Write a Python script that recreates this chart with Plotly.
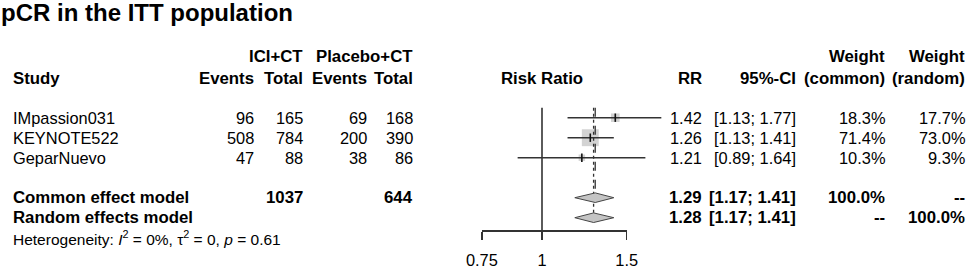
import math
import plotly.graph_objects as go

# ---------------- data ----------------
title = "pCR in the ITT population"
studies = ["IMpassion031", "KEYNOTE522", "GeparNuevo"]
ev_ici = [96, 508, 47]
tot_ici = [165, 784, 88]
ev_pla = [69, 200, 38]
tot_pla = [168, 390, 86]
rr = [1.42, 1.26, 1.21]
ci_lo = [1.13, 1.13, 0.89]
ci_hi = [1.77, 1.41, 1.64]
w_common = [18.3, 71.4, 10.3]
w_random = [17.7, 73.0, 9.3]

models = ["Common effect model", "Random effects model"]
model_rr = [1.29, 1.28]
model_lo = [1.17, 1.17]
model_hi = [1.41, 1.41]
model_tot_ici = ["1037", ""]
model_tot_pla = ["644", ""]
model_w_common = ["100.0%", "--"]
model_w_random = ["--", "100.0%"]

heterogeneity = "Heterogeneity: <i>I</i><sup>2</sup> = 0%, τ<sup>2</sup> = 0, <i>p</i> = 0.61"
xticks = [0.75, 1, 1.5]
xtick_labels = ["0.75", "1", "1.5"]

# ---------------- geometry ----------------
W, H = 969, 268
X1_PX = 542.0      # pixel of RR = 1
PX_PER_LN = 209.0  # pixels per natural-log unit
ROW0 = 117.7       # pixel y of first study row
ROWH = 20.0        # row height in pixels
AXIS_PX = 230.0    # pixel y of the x axis line


def px_x(v):
    return X1_PX + PX_PER_LN * math.log(v)


def row_of_px(p):
    return (p - ROW0) / ROWH


def xp(p):
    return p / W


log10_left = (0 - X1_PX) / PX_PER_LN / math.log(10)
log10_right = (W - X1_PX) / PX_PER_LN / math.log(10)

FONT = "Liberation Sans, Arial, Helvetica, sans-serif"
FS = 16.4
FSB = 16.8
LINE_COL = "#333333"
study_rows = [0, 1, 2]
model_rows = [4, 5]
hdr1, hdr2 = -3.05, -1.95
het_row = 6
k_axis = row_of_px(AXIS_PX)
k_top = -0.5
DIA_H = 0.24

fig = go.Figure()

# weight squares (drawn first so CI lines pass over them)
fig.add_trace(go.Scatter(x=rr, y=study_rows, mode="markers",
                         marker=dict(symbol="square", size=[2.0 * math.sqrt(w) for w in w_common],
                                     color="#c0c0c0", line=dict(width=0)),
                         hoverinfo="skip"))

# reference line at RR = 1
fig.add_trace(go.Scatter(x=[1, 1], y=[k_top, k_axis], mode="lines",
                         line=dict(color=LINE_COL, width=1.6), hoverinfo="skip"))
# common-effect (dashed) and random-effects (dotted) lines
fig.add_trace(go.Scatter(x=[model_rr[0]] * 2, y=[k_top, model_rows[0] - DIA_H], mode="lines",
                         line=dict(color=LINE_COL, width=1.3, dash="dash"), hoverinfo="skip"))
fig.add_trace(go.Scatter(x=[model_rr[1]] * 2, y=[k_top, model_rows[1] - DIA_H], mode="lines",
                         line=dict(color=LINE_COL, width=1.3, dash="dot"), hoverinfo="skip"))

# CI lines
cx, cy = [], []
for lo, hi, k in zip(ci_lo, ci_hi, study_rows):
    cx += [lo, hi, None]
    cy += [k, k, None]
fig.add_trace(go.Scatter(x=cx, y=cy, mode="lines",
                         line=dict(color=LINE_COL, width=1.5), hoverinfo="skip"))

# point-estimate ticks
fig.add_trace(go.Scatter(x=rr, y=study_rows, mode="markers",
                         marker=dict(symbol="line-ns", size=6, line=dict(color="#111111", width=1.6)),
                         hoverinfo="skip"))

# diamonds
for m, k in enumerate(model_rows):
    fig.add_trace(go.Scatter(
        x=[model_lo[m], model_rr[m], model_hi[m], model_rr[m], model_lo[m]],
        y=[k, k - DIA_H, k, k + DIA_H, k],
        mode="lines", fill="toself", fillcolor="#c4c4c4",
        line=dict(color="#444444", width=1), hoverinfo="skip"))

# invisible trace to create the visible tick axis subplot
fig.add_trace(go.Scatter(x=xticks, y=[0] * len(xticks), xaxis="x2", yaxis="y2",
                         mode="markers", marker=dict(opacity=0), hoverinfo="skip"))

ann = []


def txt(x_px, k, s, anchor="right", bold=False, size=None):
    if size is None:
        size = FSB if bold else FS
    ann.append(dict(x=xp(x_px), xref="paper", y=k, yref="y", text=f"<b>{s}</b>" if bold else s,
                    showarrow=False, xanchor=anchor, yanchor="middle",
                    font=dict(family=FONT, size=size, color="black")))


# title
ann.append(dict(x=xp(-1), xref="paper", y=row_of_px(12), yref="y", text=f"<b>{title}</b>",
                showarrow=False, xanchor="left", yanchor="middle",
                font=dict(family=FONT, size=24, color="black")))

COL = dict(study=11, ev_ici=256, tot_ici=305, ev_pla=369, tot_pla=415,
           rr=704, ci=798, wc=887, wr=967)

# headers
txt(COL["tot_ici"], hdr1, "ICI+CT", bold=True)
txt(COL["tot_pla"], hdr1, "Placebo+CT", bold=True)
txt(COL["wc"], hdr1, "Weight", bold=True)
txt(COL["wr"], hdr1, "Weight", bold=True)
txt(COL["study"], hdr2, "Study", anchor="left", bold=True)
txt(COL["ev_ici"], hdr2, "Events", bold=True)
txt(COL["tot_ici"], hdr2, "Total", bold=True)
txt(COL["ev_pla"], hdr2, "Events", bold=True)
txt(COL["tot_pla"], hdr2, "Total", bold=True)
txt(X1_PX, hdr2, "Risk Ratio", anchor="center", bold=True)
txt(COL["rr"], hdr2, "RR", bold=True)
txt(COL["ci"], hdr2, "95%-CI", bold=True)
txt(COL["wc"], hdr2, "(common)", bold=True)
txt(COL["wr"], hdr2, "(random)", bold=True)

# study rows
for i, k in enumerate(study_rows):
    txt(COL["study"], k, studies[i], anchor="left")
    txt(COL["ev_ici"], k, str(ev_ici[i]))
    txt(COL["tot_ici"], k, str(tot_ici[i]))
    txt(COL["ev_pla"], k, str(ev_pla[i]))
    txt(COL["tot_pla"], k, str(tot_pla[i]))
    txt(COL["rr"], k, f"{rr[i]:.2f}")
    txt(COL["ci"], k, f"[{ci_lo[i]:.2f}; {ci_hi[i]:.2f}]")
    txt(COL["wc"], k, f"{w_common[i]:.1f}%")
    txt(COL["wr"], k, f"{w_random[i]:.1f}%")

# model rows
for m, k in enumerate(model_rows):
    txt(COL["study"], k, models[m], anchor="left", bold=True)
    if model_tot_ici[m]:
        txt(COL["tot_ici"], k, model_tot_ici[m], bold=True)
    if model_tot_pla[m]:
        txt(COL["tot_pla"], k, model_tot_pla[m], bold=True)
    txt(COL["rr"], k, f"{model_rr[m]:.2f}", bold=True)
    txt(COL["ci"], k, f"[{model_lo[m]:.2f}; {model_hi[m]:.2f}]", bold=True)
    txt(COL["wc"], k, model_w_common[m], bold=True)
    txt(COL["wr"], k, model_w_random[m], bold=True)

txt(COL["study"], het_row, heterogeneity, anchor="left", size=15.5)

y2_lo = (H - AXIS_PX) / H

fig.update_layout(
    width=W, height=H,
    margin=dict(l=0, r=0, t=0, b=0, pad=0, autoexpand=False),
    paper_bgcolor="white", plot_bgcolor="rgba(0,0,0,0)",
    showlegend=False,
    annotations=ann,
    xaxis=dict(type="log", range=[log10_left, log10_right], domain=[0, 1],
               visible=False, fixedrange=True, automargin=False),
    yaxis=dict(range=[(H - ROW0) / ROWH, -ROW0 / ROWH], domain=[0, 1],
               visible=False, fixedrange=True, automargin=False),
    xaxis2=dict(type="log", domain=[xp(px_x(xticks[0])), xp(px_x(xticks[-1]))],
                range=[math.log10(xticks[0]), math.log10(xticks[-1])],
                anchor="y2", showline=True, linecolor=LINE_COL, linewidth=1.5,
                ticks="outside", ticklen=8, tickwidth=1.5, tickcolor=LINE_COL,
                tickvals=xticks, ticktext=xtick_labels, showgrid=False, zeroline=False,
                tickfont=dict(family=FONT, size=FS, color="black"),
                ticklabelstandoff=7, fixedrange=True, automargin=False),
    yaxis2=dict(domain=[y2_lo, y2_lo + 0.1], anchor="x2", visible=False, fixedrange=True,
                automargin=False),
)

fig.write_html("out.html", config={"displayModeBar": False, "staticPlot": True},
               post_script="document.body.style.margin='0';document.body.style.padding='0';")
